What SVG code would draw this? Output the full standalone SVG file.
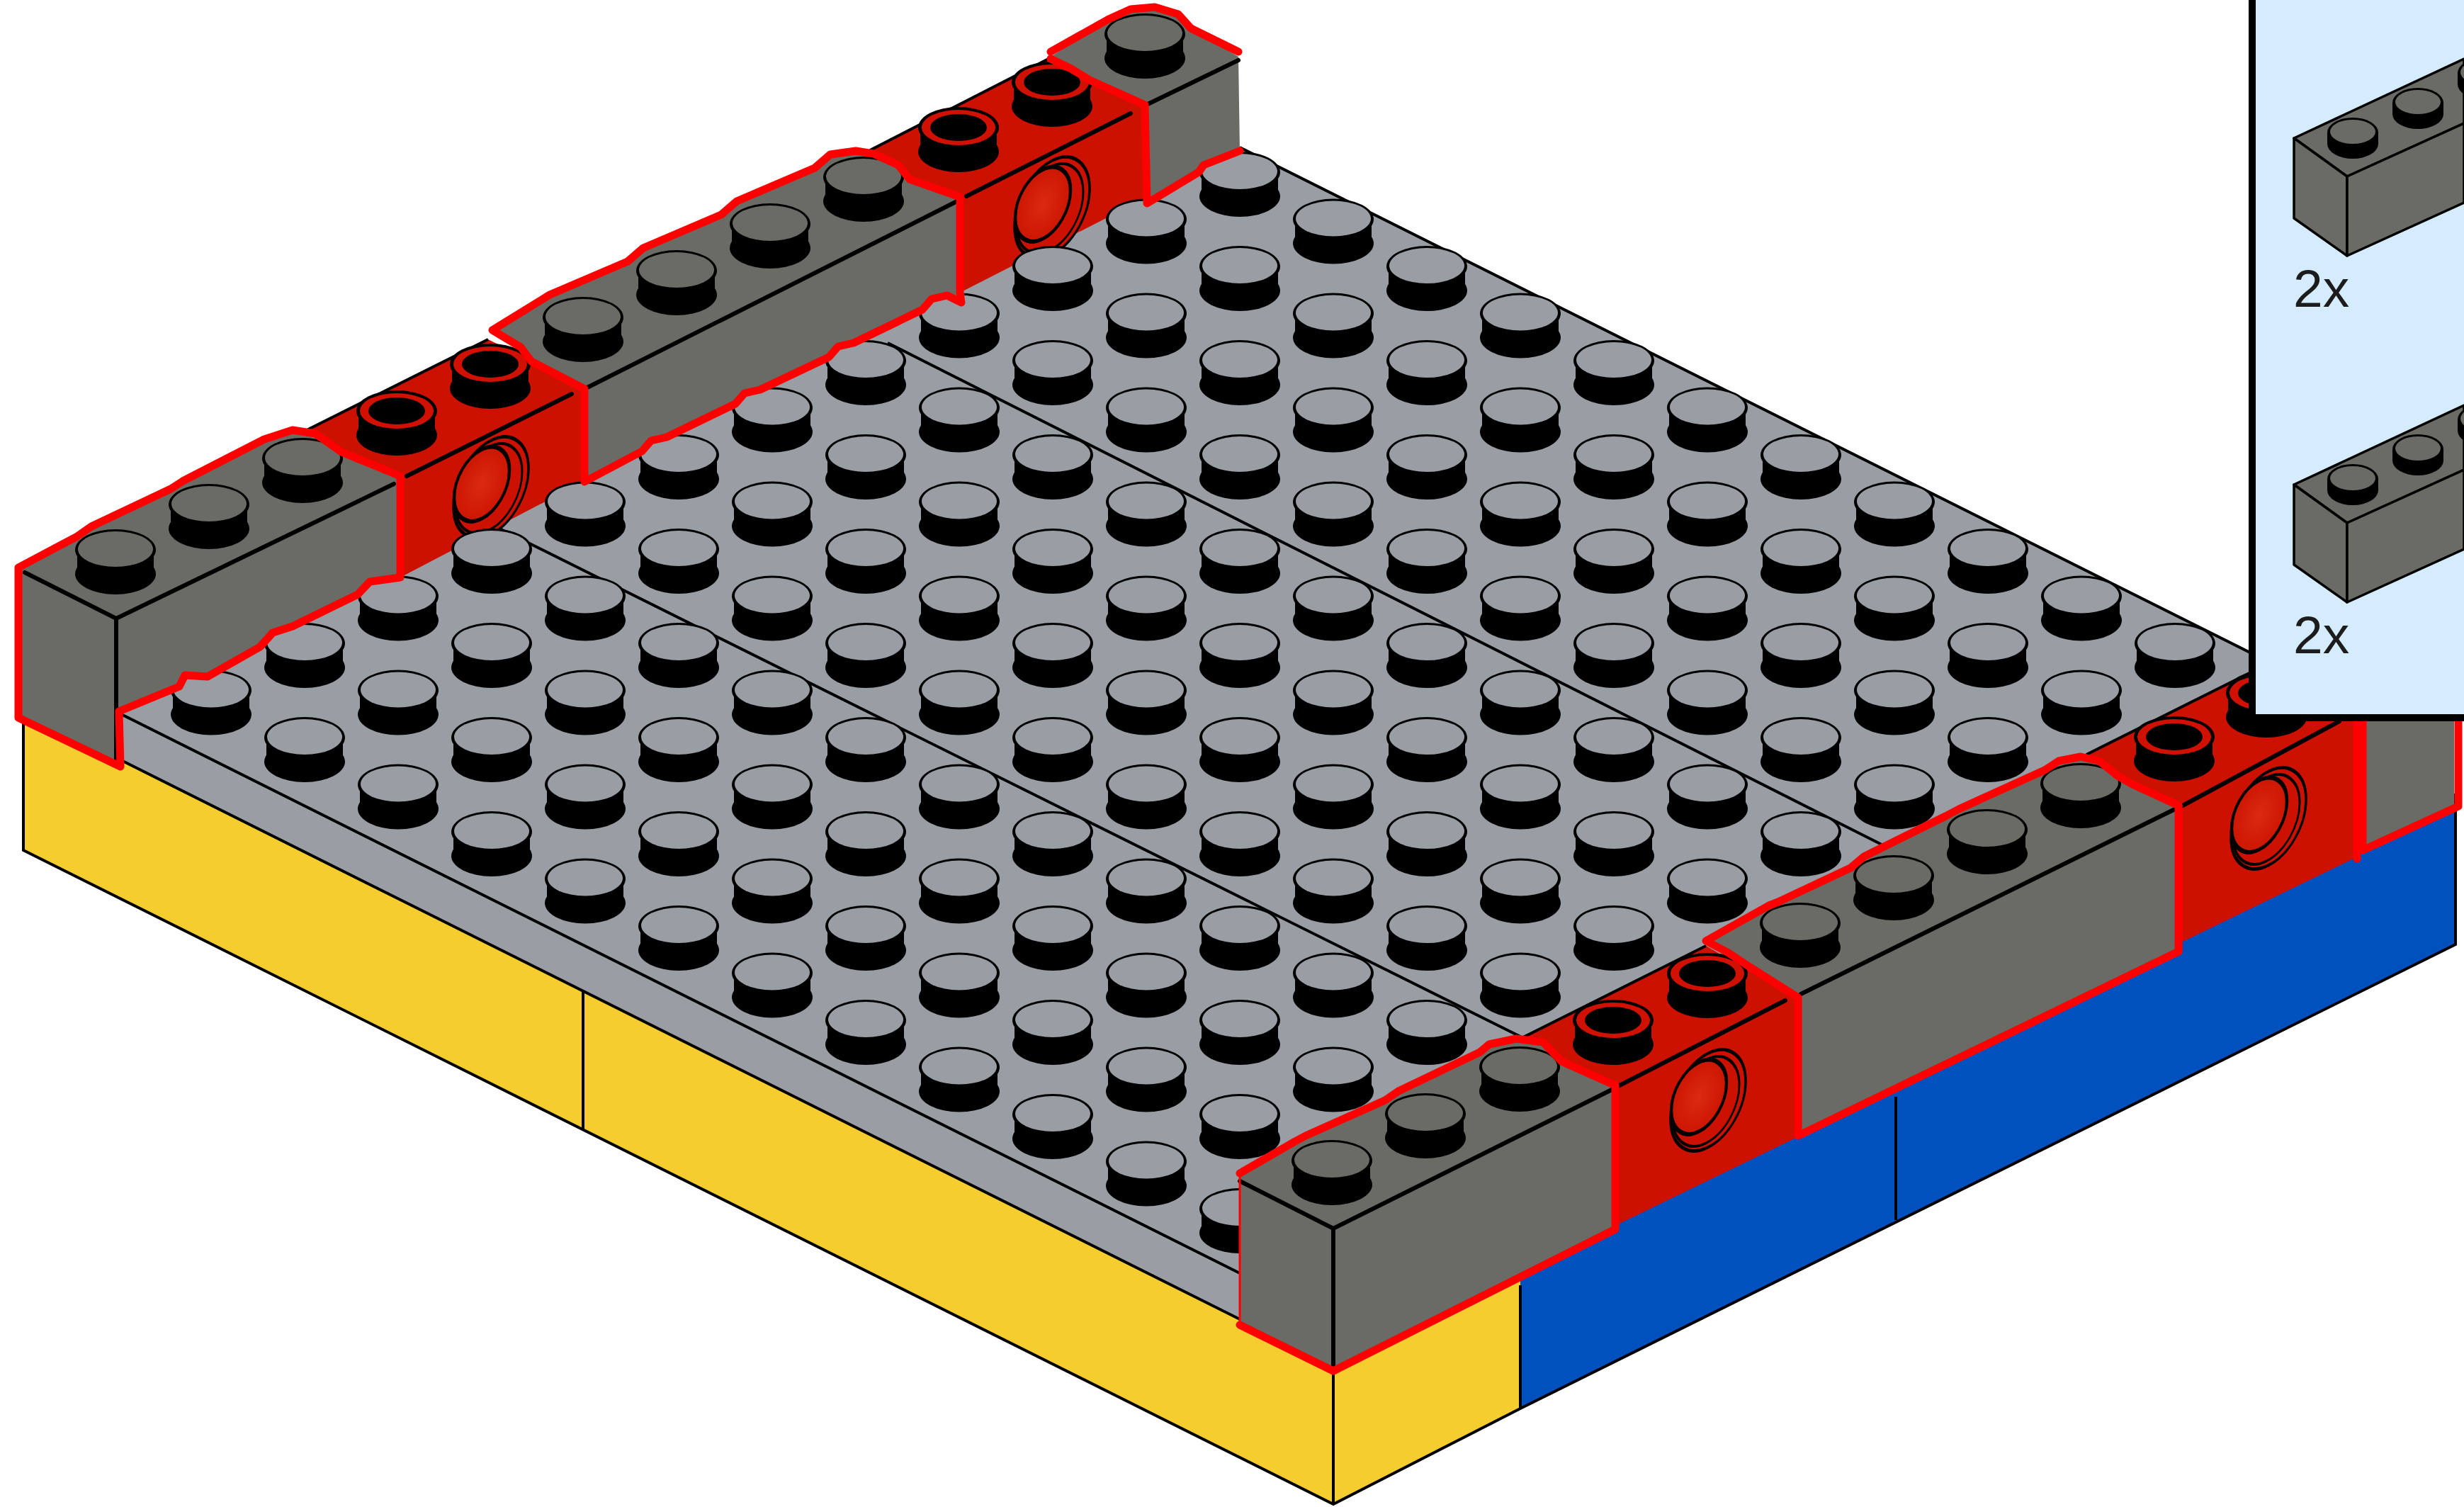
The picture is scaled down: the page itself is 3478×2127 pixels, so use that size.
<svg xmlns="http://www.w3.org/2000/svg" width="3478" height="2127" viewBox="0 0 3478 2127">
<style>
.ln{stroke:#000;stroke-width:4;fill:none}
.fold{stroke:#000;stroke-width:6;fill:none;stroke-linecap:round}
.gf{fill:#6a6b65;stroke:none}
.rf{fill:#cc1100;stroke:none}
.ro{fill:none;stroke:#ff0000;stroke-width:11;stroke-linejoin:round;stroke-linecap:round}
.edge{stroke:#000;stroke-width:3.5;stroke-linejoin:round}
.label{font-family:"Liberation Sans",Arial,sans-serif;font-size:75px;fill:#1c1c1c}
</style>
<defs>
<radialGradient id="holeFill" cx="0.5" cy="0.5" r="0.6"><stop offset="0" stop-color="#dc2a10"/><stop offset="1" stop-color="#c81200"/></radialGradient>
<g id="sb"><ellipse cx="0" cy="0" rx="57" ry="29"/><ellipse cx="0" cy="34" rx="57" ry="29"/><rect x="-54" y="0" width="108" height="34"/></g>
<g id="sp"><use href="#sb"/><ellipse cx="0" cy="-1" rx="53" ry="25" fill="#999ea4"/></g>
<g id="sg"><use href="#sb"/><ellipse cx="0" cy="-1" rx="53" ry="25" fill="#6a6b65"/></g>
<g id="sr"><use href="#sb"/><ellipse cx="0" cy="0" rx="52" ry="25" fill="#d01000"/><ellipse cx="0" cy="0" rx="40" ry="19"/></g>
<g id="row">
<use href="#sp" x="0" y="0"/><use href="#sp" x="132" y="66.5"/><use href="#sp" x="264" y="133"/><use href="#sp" x="396" y="199.5"/><use href="#sp" x="528" y="266"/><use href="#sp" x="660" y="332.5"/><use href="#sp" x="792" y="399"/><use href="#sp" x="924" y="465.5"/><use href="#sp" x="1056" y="532"/><use href="#sp" x="1188" y="598.5"/><use href="#sp" x="1320" y="665"/><use href="#sp" x="1452" y="731.5"/>
</g>
<g id="hole">
<g transform="matrix(1 -0.5 0 1.25 0 0)"><circle r="53" fill="#cc1100" stroke="#000" stroke-width="3.5"/><circle cx="-3" cy="0" r="47" fill="#cc1100" stroke="#000" stroke-width="3"/><circle cx="-13" cy="-9" r="39" fill="url(#holeFill)" stroke="#000" stroke-width="4.5"/></g>
</g>
<path id="g1" d="M26 801L109 757L129 743L241 690L258 679L373 620L413 607L445 612L482 638L565 672L565 815L522 821L505 839L413 884L385 893L367 913L293 955L261 953L253 969L168 1004L170 1082L26 1013Z"/>
<path id="g2" d="M695 466L776 416L886 369L908 350L1018 303L1040 284L1150 237L1172 218L1208 213L1233 217L1268 233L1284 253L1355 278L1355 413L1357 427L1337 417L1315 422L1302 437L1205 484L1183 489L1170 504L1073 550L1051 555L1038 570L941 617L919 622L906 637L825 680L825 549L750 510L735 490Z"/>
<path id="g3" d="M1483 73L1565 27L1596 13L1630 10L1663 20L1681 40L1748 73M1750 213L1699 233L1692 243L1619 287L1616 148L1538 113L1512 97L1483 83"/>
<path id="g3f" d="M1483 80L1565 27L1596 13L1630 10L1663 20L1681 40L1748 80L1750 213L1699 233L1692 243L1619 287L1616 148L1538 113L1512 97Z"/>
<path id="gA" d="M1750 1656L1828 1611L1843 1603L1955 1553L1974 1540L2089 1485L2102 1474L2140 1466L2178 1471L2204 1498L2280 1532L2280 1735L1882 1935L1750 1870"/>
<path id="gC" d="M2408 1328L2497 1278L2510 1273L2612 1225L2631 1209L2746 1152L2765 1142L2886 1087L2906 1074L2937 1068L2963 1074L2989 1095L3010 1107L3075 1137L3075 1343L2538 1603L2538 1408L2470 1365L2440 1345Z"/>
<path id="gE" d="M3335 1000L3335 1200L3470 1138L3470 940"/>
<g id="kit">
<path d="M3238 195L3313 249L3478 174L3478 83Z" class="gf edge"/>
<path d="M3238 195L3313 249L3313 361L3238 308Z" class="gf edge"/>
<path d="M3313 249L3478 174L3478 286L3313 361Z" class="gf edge"/>
<g><ellipse cx="3321" cy="187" rx="36" ry="21"/><ellipse cx="3321" cy="203" rx="36" ry="21"/><rect x="3285" y="187" width="72" height="16"/><ellipse cx="3321" cy="186" rx="32" ry="17" fill="#6a6b65"/></g>
<g><ellipse cx="3413" cy="145" rx="36" ry="21"/><ellipse cx="3413" cy="161" rx="36" ry="21"/><rect x="3377" y="145" width="72" height="16"/><ellipse cx="3413" cy="144" rx="32" ry="17" fill="#6a6b65"/></g>
<g><ellipse cx="3505" cy="103" rx="36" ry="21"/><ellipse cx="3505" cy="119" rx="36" ry="21"/><rect x="3469" y="103" width="72" height="16"/><ellipse cx="3505" cy="102" rx="32" ry="17" fill="#6a6b65"/></g>
</g>
</defs>
<rect width="3478" height="2127" fill="#fff"/>

<g id="base">
<path d="M33 1000L33 1200L1882 2123L2146 1988L2146 1790L1882 1700Z" fill="#f5cd2f"/>
<path d="M2146 1790L2146 1988L3466 1333L3466 1120L3000 1200Z" fill="#0050bd"/>
<path class="ln" d="M33 1000L33 1200L1882 2123L2146 1988L3466 1333L3466 1120M1882 1900L1882 2123M823 1400L823 1593M2146 1814L2146 1988M2676 1548L2676 1722"/>
</g>

<g id="plate">
<path d="M1750 208L3334 1000L1750 1797L165 1005Z" fill="#999ea4"/>
<path d="M165 1005L1750 1797L1750 1862L165 1070Z" fill="#999ea4"/>
<path class="ln" d="M1750 208L3334 1000M165 1005L1750 1797M165 1070L1750 1862M1253 484L2660 1194M695 741L2146 1463"/>
</g>

<g id="wall-back-red">
<path class="rf" d="M565 700L433 625L433 607L689 479L821 545L821 681L565 815Z"/>
<path class="ln" d="M433 607L689 479"/>
<path class="fold" d="M574 672L807 556"/>
<use href="#sr" x="560" y="580"/><use href="#sr" x="692" y="514"/>
<use href="#hole" x="693" y="688"/>
<path class="rf" d="M1355 300L1228 230L1228 212L1482 82L1616 148L1616 280L1355 413Z"/>
<path class="ln" d="M1228 212L1482 82"/>
<path class="fold" d="M1364 277L1596 160"/>
<use href="#sr" x="1353" y="180"/><use href="#sr" x="1485" y="116"/>
<use href="#hole" x="1485" y="293"/>
</g>

<g id="plate-studs">
<use href="#row" x="1750" y="243"/><use href="#row" x="1618" y="309.5"/><use href="#row" x="1486" y="376"/><use href="#row" x="1354" y="442.5"/><use href="#row" x="1222" y="509"/><use href="#row" x="1090" y="575.5"/><use href="#row" x="958" y="642"/><use href="#row" x="826" y="708.5"/><use href="#row" x="694" y="775"/><use href="#row" x="562" y="841.5"/><use href="#row" x="430" y="908"/><use href="#row" x="298" y="974.5"/>
</g>

<g id="wall-back-grey">
<use href="#g1" class="gf"/>
<path class="fold" d="M35 808L164 873L556 683M164 873L164 1076"/>
<use href="#sg" x="163" y="776"/><use href="#sg" x="295" y="712"/><use href="#sg" x="427" y="647"/>
<use href="#g1" class="ro"/>

<use href="#g2" class="gf"/>
<path class="fold" d="M825 549L1349 285"/>
<use href="#sg" x="823" y="448"/><use href="#sg" x="955" y="382"/><use href="#sg" x="1087" y="316"/><use href="#sg" x="1219" y="250"/>
<use href="#g2" class="ro"/>

<use href="#g3f" class="gf"/>
<path class="fold" d="M1618 148L1748 85"/>
<use href="#sg" x="1616" y="48"/>
<use href="#g3" class="ro"/>
</g>

<g id="wall-front">
<path class="rf" d="M2280 1550L2146 1480L2146 1466L2408 1335L2535 1408L2535 1606L2280 1730Z"/>
<path class="ln" d="M2146 1466L2408 1335"/>
<path class="fold" d="M2286 1532L2520 1412"/>
<use href="#sr" x="2277" y="1440"/><use href="#sr" x="2410" y="1374"/>
<use href="#hole" x="2411" y="1553"/>
<path class="rf" d="M3079 1160L2945 1085L2945 1065L3205 935L3335 1005L3322 1212L3079 1330Z"/>
<path class="ln" d="M2945 1065L3205 935"/>
<path class="fold" d="M3081 1137L3302 1018"/>
<use href="#sr" x="3069" y="1040"/><use href="#sr" x="3199" y="978"/>
<use href="#hole" x="3202" y="1155"/>
<path class="ro" d="M3075 1137L3075 1343M3327 1010L3327 1212"/>

<use href="#gA" class="gf"/>
<path class="fold" d="M1750 1667L1882 1734L2277 1537M1882 1734L1882 1930"/>
<use href="#sg" x="1880" y="1638"/><use href="#sg" x="2012" y="1572"/><use href="#sg" x="2145" y="1506"/>
<use href="#gA" class="ro"/>
<path d="M1750 1656L1750 1870" stroke="#ff0000" stroke-width="3" fill="none"/>

<use href="#gC" class="gf"/>
<path class="fold" d="M2542 1403L3068 1143"/>
<use href="#sg" x="2541" y="1303"/><use href="#sg" x="2673" y="1236"/><use href="#sg" x="2805" y="1171"/><use href="#sg" x="2937" y="1106"/>
<use href="#gC" class="ro"/>

<path d="M3335 1000L3464 940L3464 1137L3335 1198Z" class="gf"/>
<use href="#gE" class="ro"/>
</g>

<g id="parts-panel">
<rect x="3179" y="-10" width="320" height="1023" fill="#d4ecfd" stroke="#000" stroke-width="10"/>
<use href="#kit"/>
<text class="label" x="3237" y="433">2x</text>
<use href="#kit" y="489"/>
<text class="label" x="3237" y="922">2x</text>
</g>
</svg>
